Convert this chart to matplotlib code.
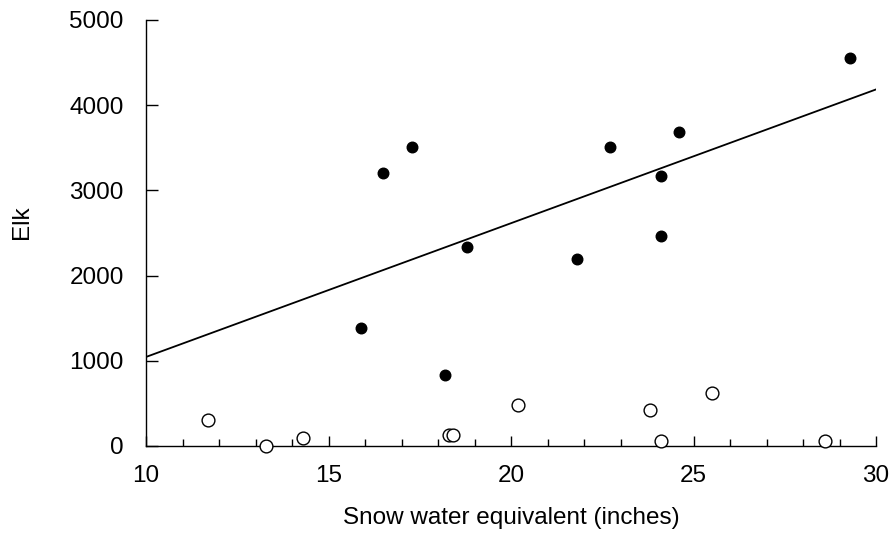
import matplotlib
matplotlib.use("Agg")
import matplotlib.pyplot as plt
from matplotlib.ticker import MultipleLocator

plt.rcParams['font.family'] = ['Liberation Sans', 'DejaVu Sans']

# filled points
swe_filled = [15.9, 16.5, 17.3, 18.2, 18.8, 21.8, 22.7, 24.1, 24.1, 24.6, 29.3]
elk_filled = [1390, 3205, 3510, 830, 2340, 2190, 3510, 3170, 2460, 3680, 4550]

# open points
swe_open = [11.7, 13.3, 14.3, 18.3, 18.4, 20.2, 23.8, 24.1, 25.5, 28.6]
elk_open = [305, 0, 95, 130, 125, 480, 420, 60, 620, 60]

# fitted line ends
line_x = [10, 30]
line_y = [1045, 4185]

W, H = 892, 533
fs = 17.5
fig = plt.figure(figsize=(W / 100, H / 100), dpi=100)
ax = fig.add_axes([146 / W, 1 - 446 / H, (876 - 146) / W, (446 - 20) / H])

ax.plot(line_x, line_y, color='black', lw=1.3, zorder=2)
ax.plot(swe_filled, elk_filled, 'o', ms=7.6, color='black', zorder=3, clip_on=False)
ax.plot(swe_open, elk_open, 'o', ms=9.2, mfc='white', mec='black', mew=1.0,
        zorder=3, clip_on=False)

ax.set_xlim(10, 30)
ax.set_ylim(0, 5000)
ax.xaxis.set_major_locator(MultipleLocator(5))
ax.xaxis.set_minor_locator(MultipleLocator(1))
ax.yaxis.set_major_locator(MultipleLocator(1000))

for s in ['top', 'right']:
    ax.spines[s].set_visible(False)
for s in ['left', 'bottom']:
    ax.spines[s].set_linewidth(1.0)
    ax.spines[s].set_color('black')

ax.tick_params(axis='x', which='major', direction='in', length=7.2, width=1,
               pad=14, labelsize=fs)
ax.tick_params(axis='x', which='minor', direction='in', length=5, width=1)
ax.tick_params(axis='y', which='major', direction='in', length=8.6, width=1,
               pad=16, labelsize=fs)

fig.text(511 / W, 1 - 518 / H, 'Snow water equivalent (inches)', ha='center',
         va='center', fontsize=fs)
fig.text(22 / W, 1 - 222 / H, 'Elk', ha='center', va='center', rotation=90,
         fontsize=fs)

fig.savefig('out.png', dpi=100)
